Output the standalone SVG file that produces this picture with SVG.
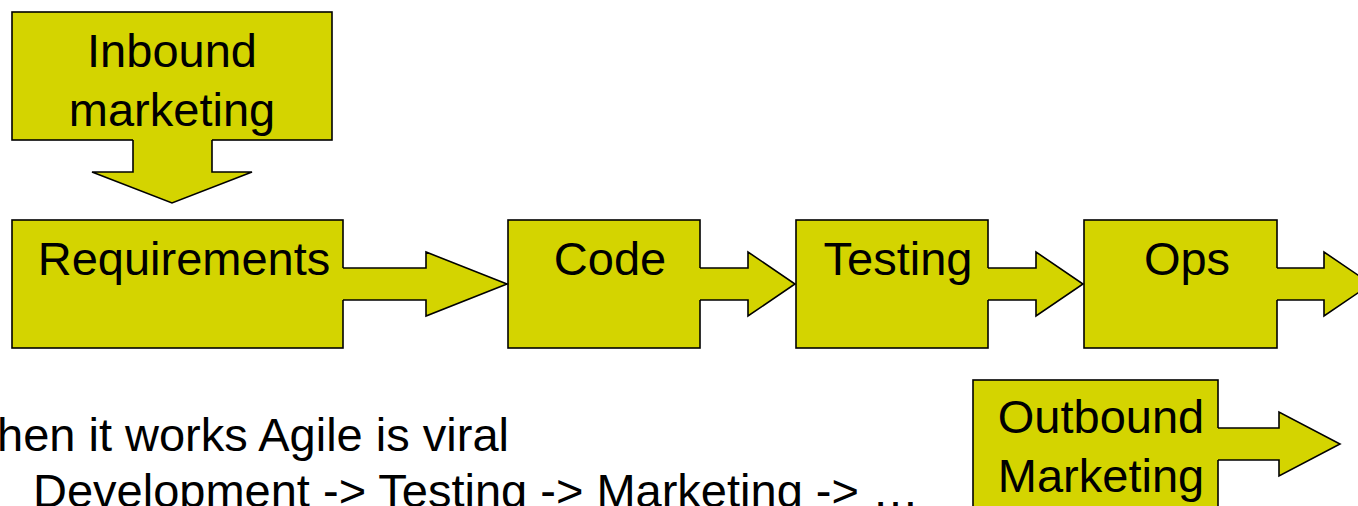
<svg xmlns="http://www.w3.org/2000/svg" width="1358" height="506" viewBox="0 0 1358 506">
<style>
.box{fill:#D4D400;stroke:#000;stroke-width:1.6}
.af{fill:#D4D400;stroke:none}
.ao{fill:none;stroke:#000;stroke-width:1.6;stroke-linejoin:miter}
.t{font-family:"Liberation Sans",Arial,sans-serif;font-size:47px;fill:#000}
.m{text-anchor:middle}
</style>
<rect width="1358" height="506" fill="#fff"/>
<g id="inbound">
<rect class="box" x="12" y="12" width="320" height="128"/>
<text class="t m" x="172" y="67">Inbound</text>
<text class="t m" x="172" y="126">marketing</text>
</g>
<g id="requirements">
<rect class="box" x="12" y="220" width="331" height="128"/>
<text class="t m" x="184" y="275">Requirements</text>
</g>
<g id="code">
<rect class="box" x="508" y="220" width="192" height="128"/>
<text class="t m" x="610" y="275">Code</text>
</g>
<g id="testing">
<rect class="box" x="796" y="220" width="192" height="128"/>
<text class="t m" x="898" y="275">Testing</text>
</g>
<g id="ops">
<rect class="box" x="1084" y="220" width="193" height="128"/>
<text class="t m" x="1187" y="275">Ops</text>
</g>
<g id="outbound">
<rect class="box" x="973" y="380" width="245" height="140"/>
<text class="t m" x="1101" y="433">Outbound</text>
<text class="t m" x="1101" y="492">Marketing</text>
</g>
<g id="connectors">
<path class="af" d="M133,138 V172 H92 L172,203 L252,172 H212 V138 Z"/>
<path class="ao" d="M133,140 V172 H92 L172,203 L252,172 H212 V140"/>
<path class="af" d="M341,268 H426 V252 L507,284 L426,316 V300 H341 Z"/>
<path class="ao" d="M343,268 H426 V252 L507,284 L426,316 V300 H343"/>
<path class="af" d="M698,268 H748 V252 L795,284 L748,316 V300 H698 Z"/>
<path class="ao" d="M700,268 H748 V252 L795,284 L748,316 V300 H700"/>
<path class="af" d="M986,268 H1036 V252 L1083,284 L1036,316 V300 H986 Z"/>
<path class="ao" d="M988,268 H1036 V252 L1083,284 L1036,316 V300 H988"/>
<path class="af" d="M1275,268 H1324 V252 L1371,284 L1324,316 V300 H1275 Z"/>
<path class="ao" d="M1277,268 H1324 V252 L1371,284 L1324,316 V300 H1277"/>
<path class="af" d="M1216,428 H1279 V412 L1340,444 L1279,476 V460 H1216 Z"/>
<path class="ao" d="M1218,428 H1279 V412 L1340,444 L1279,476 V460 H1218"/>
</g>
<g id="notes">
<text class="t" x="-3" y="451">hen it works Agile is viral</text>
<text class="t" x="33" y="507">Development -&gt; Testing -&gt; Marketing -&gt; …</text>
</g>
</svg>
